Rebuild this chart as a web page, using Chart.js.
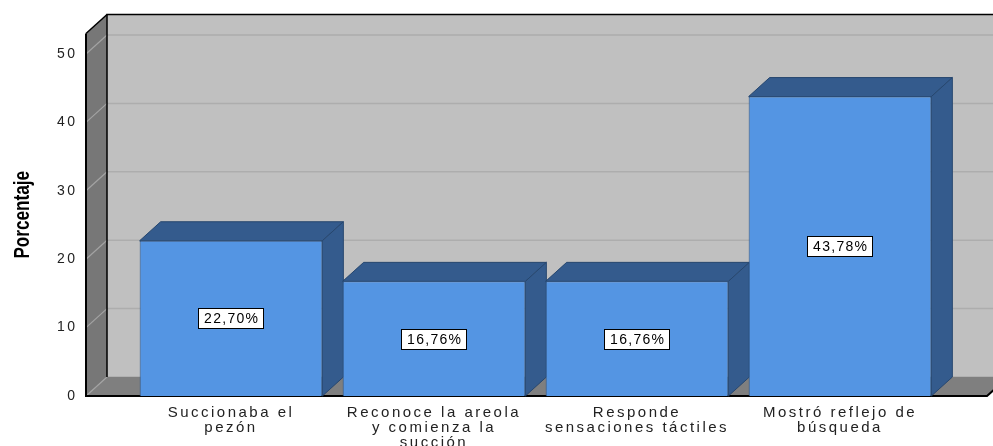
<!DOCTYPE html>
<html><head><meta charset="utf-8">
<script src="https://cdn.jsdelivr.net/npm/chart.js@4.4.1/dist/chart.umd.min.js"></script>
<style>html,body{margin:0;padding:0;background:#fff}#wrap{width:993px;height:446px;position:relative}</style>
</head><body><div id="wrap"><canvas id="c"></canvas></div>
<script>
// ---- data ----
const categories = [
  ['Succionaba el', 'pezón'],
  ['Reconoce la areola', 'y comienza la', 'succión'],
  ['Responde', 'sensaciones táctiles'],
  ['Mostró reflejo de', 'búsqueda']
];
const percentages = [22.70, 16.76, 16.76, 43.78];
const yTickValues = [0, 10, 20, 30, 40, 50];
const yMax = 53;
const yTitle = 'Porcentaje';

// ---- style ----
const DX = 21, DY = 19;
const FONT = '"Liberation Sans", Arial, sans-serif';

function fmt(v){ return v.toFixed(2).replace('.', ',') + '%'; }

const frame3d = {
  id: 'frame3d',
  beforeDraw(chart){ chart.ctx.letterSpacing = '2.5px'; },
  afterDraw(chart){ chart.ctx.letterSpacing = '0px'; },
  afterLayout(chart){
    const s = chart.scales.y;
    if (s && !s._customTitle){
      const orig = s.drawTitle.bind(s);
      s.drawTitle = function(){
        const ctx = this.ctx;
        ctx.save();
        ctx.letterSpacing = '0px';
        const cy = (this.top + this.bottom) / 2;
        ctx.translate(0, cy); ctx.scale(1, 0.78); ctx.translate(0, -cy);
        orig();
        ctx.restore();
      };
      s._customTitle = true;
    }
  },
  beforeDatasetsDraw(chart){
    const {ctx, chartArea: ca, scales: {x, y}} = chart;
    const fl = ca.left - 43.5, fr = ca.right + 45.5;
    const y0 = y.getPixelForValue(0), yT = y.getPixelForValue(yMax);
    ctx.save();
    ctx.letterSpacing = '0px';
    // back wall
    ctx.fillStyle = '#C0C0C0';
    ctx.fillRect(fl + DX, yT - DY, fr - fl + 10, y0 - yT);
    // back wall grid
    ctx.strokeStyle = '#ADADAD'; ctx.lineWidth = 1.5;
    yTickValues.forEach(v => {
      const py = y.getPixelForValue(v) - DY;
      ctx.beginPath(); ctx.moveTo(fl + DX, py); ctx.lineTo(fr + DX + 10, py); ctx.stroke();
    });
    // side wall
    ctx.fillStyle = '#777777';
    ctx.beginPath();
    ctx.moveTo(fl, yT); ctx.lineTo(fl + DX, yT - DY); ctx.lineTo(fl + DX, y0 - DY); ctx.lineTo(fl, y0);
    ctx.closePath(); ctx.fill();
    // floor
    ctx.fillStyle = '#7F7F7F';
    ctx.beginPath();
    ctx.moveTo(fl, y0); ctx.lineTo(fr, y0); ctx.lineTo(fr + DX, y0 - DY); ctx.lineTo(fl + DX, y0 - DY);
    ctx.closePath(); ctx.fill();
    // side wall grid diagonals
    ctx.strokeStyle = '#A3A3A3'; ctx.lineWidth = 1.2;
    yTickValues.forEach(v => {
      const py = y.getPixelForValue(v);
      ctx.beginPath(); ctx.moveTo(fl, py); ctx.lineTo(fl + DX, py - DY); ctx.stroke();
    });
    // outlines
    ctx.strokeStyle = '#000';
    ctx.lineWidth = 1.5;
    ctx.beginPath(); ctx.moveTo(fl + DX, y0 - DY); ctx.lineTo(fl + DX, yT - DY); ctx.lineTo(fr + DX + 20, yT - DY); ctx.stroke();
    ctx.beginPath(); ctx.moveTo(fl, yT); ctx.lineTo(fl + DX, yT - DY); ctx.stroke();
    ctx.lineWidth = 2;
    ctx.beginPath(); ctx.moveTo(fl, yT); ctx.lineTo(fl, y0); ctx.lineTo(fr, y0); ctx.lineTo(fr + DX, y0 - DY); ctx.stroke();

    // 3D faces of bars
    const meta = chart.getDatasetMeta(0);
    meta.data.forEach(el => {
      const p = el.getProps(['x', 'y', 'base', 'width'], true);
      const l = p.x - p.width / 2, r = p.x + p.width / 2, t = p.y, b = p.base;
      ctx.fillStyle = '#345B8D'; ctx.strokeStyle = '#27476F'; ctx.lineWidth = 1;
      ctx.beginPath();
      ctx.moveTo(l, t); ctx.lineTo(l + DX, t - DY); ctx.lineTo(r + DX, t - DY); ctx.lineTo(r, t); ctx.closePath();
      ctx.fill(); ctx.stroke();
      ctx.beginPath();
      ctx.moveTo(r, t); ctx.lineTo(r + DX, t - DY); ctx.lineTo(r + DX, b - DY); ctx.lineTo(r, b); ctx.closePath();
      ctx.fill(); ctx.stroke();
    });
    ctx.restore();
  },
  afterDatasetsDraw(chart){
    const {ctx} = chart;
    const meta = chart.getDatasetMeta(0);
    ctx.save();
    ctx.font = '14px ' + FONT;
    ctx.letterSpacing = '1.3px';
    ctx.textBaseline = 'middle'; ctx.textAlign = 'center';
    meta.data.forEach((el, i) => {
      const p = el.getProps(['x', 'y', 'base'], true);
      const cy = (p.y + p.base) / 2;
      const txt = fmt(percentages[i]);
      const w = ctx.measureText(txt).width + 10, h = 20;
      ctx.fillStyle = '#fff';
      ctx.fillRect(Math.round(p.x - w / 2) + 0.5, Math.round(cy - h / 2) + 0.5, Math.round(w), h);
      ctx.strokeStyle = '#000'; ctx.lineWidth = 1;
      ctx.strokeRect(Math.round(p.x - w / 2) + 0.5, Math.round(cy - h / 2) + 0.5, Math.round(w), h);
      ctx.fillStyle = '#000';
      ctx.fillText(txt, p.x + 0.7, cy + 1);
    });
    ctx.restore();
  }
};

new Chart(document.getElementById('c'), {
  type: 'bar',
  data: {
    labels: categories,
    datasets: [{
      data: percentages,
      backgroundColor: '#5495E3',
      borderColor: '#2F5686',
      borderWidth: 1,
      barPercentage: 0.9,
      categoryPercentage: 1.0
    }]
  },
  options: {
    responsive: true,
    maintainAspectRatio: false,
    animation: false,
    devicePixelRatio: 1,
    layout: { padding: { left: 0, top: 33.5, right: 51.5, bottom: 0 } },
    plugins: { legend: { display: false }, tooltip: { enabled: false } },
    scales: {
      x: {
        grid: { display: false, drawTicks: false },
        border: { display: false },
        ticks: {
          autoSkip: false, maxRotation: 0, minRotation: 0,
          padding: 9.5, color: '#222',
          font: { family: FONT, size: 15, lineHeight: 1.0 }
        },
        afterFit(s){ s.height = 50; s.paddingLeft = 0; s.paddingRight = 0; }
      },
      y: {
        min: 0, max: yMax,
        grid: { display: false, drawTicks: false },
        border: { display: false },
        ticks: {
          stepSize: 10, padding: 52, color: '#222',
          font: { family: FONT, size: 14 }
        },
        afterBuildTicks(s){ s.ticks = yTickValues.map(v => ({ value: v })); },
        title: {
          display: true, text: yTitle, color: '#000',
          font: { family: FONT, weight: 'bold', size: 22, lineHeight: 1.2 },
          padding: { top: 10, bottom: 0 }
        },
        afterFit(s){ s.width = 129.5; s.paddingTop = 0; s.paddingBottom = 0; }
      }
    }
  },
  plugins: [frame3d]
});
</script>
</body></html>
